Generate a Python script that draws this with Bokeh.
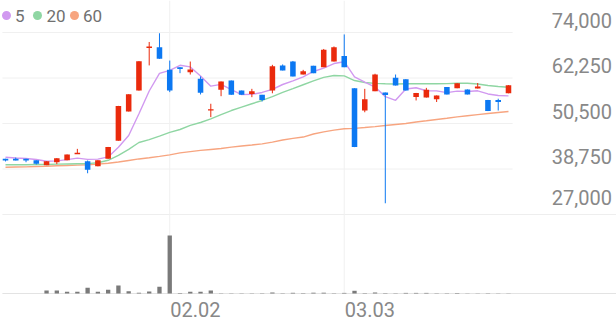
from bokeh.plotting import figure
from bokeh.models import Range1d, ColumnDataSource
from bokeh.core.properties import value
from bokeh.embed import file_html
from bokeh.resources import INLINE

# ---------------- data ----------------
opens = [41400, 41400, 41400, 41000, 39750, 40500, 41000, 42650, 40750, 39450,
         41400, 46050, 53600, 59000, 70050, 70200, 64350, 65050, 63750, 62050,
         53850, 59200, 61600, 59000, 58150, 57900, 59000, 65500, 66500, 63150,
         65400, 65050, 66500, 67900, 59600, 53850, 58850, 58500, 62300, 61950,
         57350, 57200, 56750, 59900, 59600, 59300, 59550, 56600, 56600, 58300]
highs = [41400, 41700, 41400, 41000, 40750, 41550, 42500, 43950, 40950, 41000,
         44450, 55050, 58050, 66600, 71550, 73800, 66750, 65050, 66500, 62650,
         55600, 61350, 61600, 59000, 59450, 57900, 65650, 65750, 66650, 64350,
         65400, 69750, 70400, 73500, 59600, 59450, 63350, 58500, 63150, 61950,
         58400, 59700, 57750, 59900, 60900, 59300, 60950, 56600, 56900, 60400]
lows = [40700, 40950, 40500, 39900, 39750, 40000, 41000, 42650, 37650, 39450,
        41400, 46050, 53600, 59000, 65500, 67200, 58600, 63500, 63150, 58000,
        52150, 57550, 57900, 57900, 57300, 56200, 58300, 64200, 62650, 63150,
        63500, 65050, 66500, 65050, 44400, 53400, 58850, 29900, 60300, 59000,
        56450, 57200, 56050, 58000, 59600, 58000, 59550, 53700, 53850, 58300]
closes = [40950, 40950, 40950, 40100, 40750, 41550, 42500, 42850, 38550, 41000,
          44450, 55050, 58050, 66600, 70300, 67200, 59000, 64600, 64450, 58450,
          54200, 61350, 57900, 57900, 58850, 56600, 65300, 64200, 62650, 64000,
          63500, 69550, 70200, 65050, 44400, 56750, 63150, 57850, 60300, 59000,
          58400, 59200, 57750, 58000, 60900, 58000, 60050, 53700, 56050, 60400]
volumes = [0, 0, 0, 0, 300000, 300000, 170000, 170000, 570000, 170000,
           370000, 800000, 230000, 70000, 200000, 670000, 5770000, 40000, 170000, 170000,
           300000, 30000, 30000, 20000, 20000, 30000, 100000, 30000, 70000, 40000,
           80000, 80000, 30000, 60000, 270000, 40000, 100000, 40000, 30000, 60000,
           60000, 60000, 30000, 30000, 50000, 20000, 20000, 30000, 20000, 20000]
ma5 = [41800, 41600, 41450, 41200, 40740, 40860, 41170, 41550, 41240, 41290,
       41870, 44380, 47420, 53030, 58890, 63440, 64230, 65540, 65110, 62740,
       60140, 60610, 59270, 57960, 58040, 58520, 59310, 60570, 61520, 62550,
       63930, 64780, 65980, 66460, 62540, 61190, 59910, 57440, 56490, 59410,
       59740, 58950, 58930, 58470, 58850, 58770, 58940, 58130, 57740, 57640]
ma20 = [39850, 39850, 39850, 39900, 39900, 40000, 40050, 40100, 40150, 40350,
        41000, 42250, 43800, 45600, 46350, 47250, 48200, 48950, 50000, 50750,
        51700, 52800, 53850, 54750, 55600, 56450, 57450, 58550, 59500, 60500,
        61500, 62400, 62900, 62800, 61600, 61100, 60850, 60750, 60700, 60750,
        60750, 60750, 60750, 60800, 60900, 60900, 60700, 60300, 60050, 59850]
ma60 = [39200, 39250, 39300, 39400, 39450, 39600, 39650, 39750, 39850, 40000,
        40250, 40550, 40950, 41350, 41650, 42000, 42400, 42900, 43250, 43550,
        43800, 44050, 44400, 44700, 44950, 45250, 45700, 46250, 46650, 47000,
        47800, 48350, 48800, 49150, 49250, 49450, 49700, 50000, 50250, 50500,
        50900, 51200, 51550, 51850, 52200, 52500, 52800, 53100, 53350, 53600]
price_ticks = [74000, 62250, 50500, 38750, 27000]
date_tick_index = [16, 33]
date_tick_labels = ["02.02", "03.03"]
legend_labels = ["5", "20", "60"]

# ---------------- layout (pixels) ----------------
W, H = 616, 321
X0_PX, DX_PX = 5.0, 10.265          # first candle centre, candle spacing
P_TOP_PX, P_BOT_PX = 32.0, 214.0    # pixel rows of highest / lowest price tick
V_BASE_PX, V_MAX_PX = 293.0, 235.0  # volume baseline, top of the largest bar

RED, BLUE = "#ea2a0c", "#0c78f2"
C5, C20, C60 = "#d199f0", "#8fd6a3", "#f7a580"
GRID = "#f0f0f0"
LABEL = "#888888"

n = len(closes)
idx = list(range(n))

ppp = (price_ticks[0] - price_ticks[-1]) / (P_BOT_PX - P_TOP_PX)   # price per pixel
vmax = max(volumes)
vpp = vmax / (V_BASE_PX - V_MAX_PX)                                # volume per pixel

def px_x(px):
    return (px - X0_PX) / DX_PX

y_end = price_ticks[0] + P_TOP_PX * ppp
def px_y(py):
    return y_end - py * ppp

v_end = V_BASE_PX * vpp
def px_v(py):
    return v_end - py * vpp

p = figure(width=W, height=H, output_backend="svg", toolbar_location=None,
           x_axis_location=None, y_axis_location=None,
           x_range=Range1d(px_x(0), px_x(W)),
           y_range=Range1d(px_y(H), px_y(0)),
           min_border=0, outline_line_color=None, background_fill_color="white",
           border_fill_color="white")
p.extra_y_ranges = {"vol": Range1d(px_v(H), px_v(0))}
p.xgrid.visible = False
p.ygrid.visible = False

# horizontal grid lines
grid_lo, grid_hi = -0.3, n - 1 + 0.4
p.segment(x0=[grid_lo] * (len(price_ticks) - 1), x1=[grid_hi] * (len(price_ticks) - 1),
          y0=price_ticks[:-1], y1=price_ticks[:-1], line_color=GRID, line_width=1)
p.segment(x0=[grid_lo], x1=[px_x(W)], y0=[price_ticks[-1]], y1=[price_ticks[-1]],
          line_color="#eeeeee", line_width=1)
# vertical date grid lines
p.segment(x0=date_tick_index, x1=date_tick_index, y0=[0] * len(date_tick_index),
          y1=[v_end] * len(date_tick_index), line_color=GRID, line_width=1, y_range_name="vol")
# volume baseline
p.segment(x0=[grid_lo], x1=[px_x(W)], y0=[0], y1=[0], line_color="#e3e3e3",
          line_width=1, y_range_name="vol")

# moving averages
p.line(idx, ma60, line_color=C60, line_width=1.4)
p.line(idx, ma20, line_color=C20, line_width=1.4)
p.line(idx, ma5, line_color=C5, line_width=1.4)

# candles
colors = [RED if c >= o else BLUE for o, c in zip(opens, closes)]
min_body = 1.4 * ppp
tops, bots = [], []
for o, c in zip(opens, closes):
    t, b = max(o, c), min(o, c)
    if t - b < min_body:
        m = (t + b) / 2
        t, b = m + min_body / 2, m - min_body / 2
    tops.append(t)
    bots.append(b)
src = ColumnDataSource(dict(x=idx, high=highs, low=lows, top=tops, bottom=bots,
                            color=colors, vol=volumes))
p.segment(x0="x", x1="x", y0="low", y1="high", line_color="color", line_width=1, source=src)
p.vbar(x="x", width=0.54, top="top", bottom="bottom", fill_color="color",
       line_color=None, source=src)

# volume bars
p.vbar(x="x", width=0.42, top="vol", bottom=0, fill_color="#7a7a7a", line_color=None,
       source=src, y_range_name="vol")

# price labels (centred a little above their grid line)
offsets = [-17 if v == min(price_ticks) else -12.5 for v in price_ticks]
p.text(x=[px_x(611.5)] * len(price_ticks), y=price_ticks,
       text=[f"{v:,}" for v in price_ticks], y_offset=offsets,
       text_align="right", text_baseline="middle",
       text_font=value("Roboto"), text_font_size="20px", text_color=LABEL)

# date labels
p.text(x=date_tick_index, y=[px_v(309)] * len(date_tick_index), text=date_tick_labels,
       x_offset=0.5, text_align="left", text_baseline="middle",
       text_font=value("Roboto"), text_font_size="20px", text_color=LABEL,
       y_range_name="vol")

# legend
dot_px = [6, 37, 74]
txt_px = [14.5, 46, 82.5]
p.scatter(x=[px_x(v) for v in dot_px], y=[px_y(15)] * 3, size=9,
          fill_color=[C5, C20, C60], line_color=None)
p.text(x=[px_x(v) for v in txt_px], y=[px_y(15)] * 3, text=legend_labels,
       text_align="left", text_baseline="middle", text_font=value("Roboto"),
       text_font_size="17px", text_color="#707070")

open("out.html", "w").write(file_html(p, INLINE))
